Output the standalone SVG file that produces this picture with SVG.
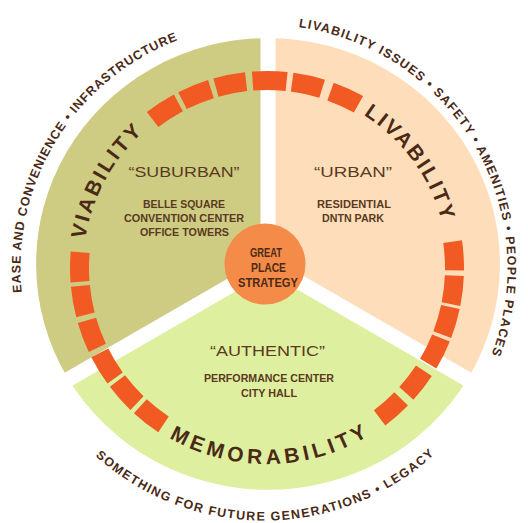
<svg xmlns="http://www.w3.org/2000/svg" xmlns:xlink="http://www.w3.org/1999/xlink" width="528" height="523" viewBox="0 0 528 523">
<defs>
<style>
text{font-family:"Liberation Sans",Arial,sans-serif;}
.ring{font-size:21px;font-weight:bold;fill:#4a2a16;}
.outer{font-size:12.5px;font-weight:bold;fill:#4a2a16;}
.quote{font-size:15px;fill:#5a3a20;}
.sub{font-size:11px;font-weight:bold;fill:#5a3a20;}
.core{font-size:12px;font-weight:bold;fill:#4a2a16;}
.blk{fill:none;stroke:#f15a22;stroke-width:19;stroke-linecap:butt;}
.band{stroke:#ffffff;stroke-width:15;}
</style>
<path id="pViab" d="M152.2,411.8 A184,184 0 0 1 325.7,93.6"/>
<path id="pLiv" d="M187.23,105.52 A181,181 0 0 1 397.57,393.34"/>
<path id="pMem" d="M74.67,305.73 A196,196 0 0 0 460.65,298.32"/>
<path id="pO1" d="M101.56,449.41 A243.5,243.5 0 0 1 354.63,41.98"/>
<path id="pO2" d="M179.12,39.77 A243.5,243.5 0 0 1 421.81,453.43"/>
<path id="pO3" d="M15.64,313.58 A252.5,252.5 0 0 0 512.97,310.12"/>
</defs>
<rect width="528" height="523" fill="#ffffff"/>

<g id="viability">
<path d="M268,264 L68.5,379.2 A232,226 0 0 1 268,38 Z" fill="#cecc83"/>
</g>
<g id="livability">
<path d="M268,264 L268,38 A232,226 0 0 1 467.5,379.2 Z" fill="#fedeba"/>
</g>
<g id="memorability">
<path d="M268,264 L467.5,379.2 A232,226 0 0 1 68.5,379.2 Z" fill="#dfefa0"/>
</g>

<g id="connectors">
<line class="band" x1="268" y1="264" x2="268" y2="28"/>
<line class="band" x1="268" y1="264" x2="60.2" y2="384"/>
<line class="band" x1="268" y1="264" x2="475.8" y2="384"/>
</g>

<g id="ring">
<path class="blk" d="M152.61,119.44 A187.5,187.5 0 0 1 178.39,102.76"/>
<path class="blk" d="M182.46,100.64 A187.5,187.5 0 0 1 210.94,89.09"/>
<path class="blk" d="M215.94,87.59 A187.5,187.5 0 0 1 246.09,81.66"/>
<path class="blk" d="M252.62,81.04 A187.5,187.5 0 0 1 286.59,81.53"/>
<path class="blk" d="M292.13,82.19 A187.5,187.5 0 0 1 322.13,88.79"/>
<path class="blk" d="M330.51,91.58 A187.5,187.5 0 0 1 358.48,104.33"/>
<path class="blk" d="M452.63,241.58 A187.5,187.5 0 0 1 454.49,270.29"/>
<path class="blk" d="M454.35,275.52 A187.5,187.5 0 0 1 450.99,304.09"/>
<path class="blk" d="M450.39,306.98 A187.5,187.5 0 0 1 442.28,334.58"/>
<path class="blk" d="M440.96,337.94 A187.5,187.5 0 0 1 428.23,363.72"/>
<path class="blk" d="M423.9,370.68 A187.5,187.5 0 0 1 406.33,393.46"/>
<path class="blk" d="M401.19,398.95 A187.5,187.5 0 0 1 379.58,417.94"/>
<path class="blk" d="M163.52,424.36 A187.5,187.5 0 0 1 140.32,406.24"/>
<path class="blk" d="M136.99,403.11 A187.5,187.5 0 0 1 117.45,381.1"/>
<path class="blk" d="M115.12,377.95 A187.5,187.5 0 0 1 99.79,352.83"/>
<path class="blk" d="M97.35,347.84 A187.5,187.5 0 0 1 86.94,320.31"/>
<path class="blk" d="M85.48,314.95 A187.5,187.5 0 0 1 80.36,285.96"/>
<path class="blk" d="M80.0,281.73 A187.5,187.5 0 0 1 80.16,252.31"/>
</g>

<g id="viability-labels">
<text class="ring" letter-spacing="2.7"><textPath xlink:href="#pViab" href="#pViab" startOffset="50%" text-anchor="middle">VIABILITY</textPath></text>
<text class="quote" x="128.5" y="177" textLength="111" lengthAdjust="spacingAndGlyphs">“SUBURBAN”</text>
<text class="sub" x="143" y="207.5" textLength="82" lengthAdjust="spacingAndGlyphs">BELLE SQUARE</text>
<text class="sub" x="124" y="222" textLength="120" lengthAdjust="spacingAndGlyphs">CONVENTION CENTER</text>
<text class="sub" x="140" y="236" textLength="89" lengthAdjust="spacingAndGlyphs">OFFICE TOWERS</text>
<text class="outer" letter-spacing="0.9"><textPath xlink:href="#pO1" href="#pO1" startOffset="50%" text-anchor="middle">EASE AND CONVENIENCE • INFRASTRUCTURE</textPath></text>
</g>

<g id="livability-labels">
<text class="ring" letter-spacing="2.4"><textPath xlink:href="#pLiv" href="#pLiv" startOffset="50%" text-anchor="middle">LIVABILITY</textPath></text>
<text class="quote" x="314" y="177" textLength="78" lengthAdjust="spacingAndGlyphs">“URBAN”</text>
<text class="sub" x="317" y="207.5" textLength="74" lengthAdjust="spacingAndGlyphs">RESIDENTIAL</text>
<text class="sub" x="322" y="221.5" textLength="62" lengthAdjust="spacingAndGlyphs">DNTN PARK</text>
<text class="outer" letter-spacing="1.2"><textPath xlink:href="#pO2" href="#pO2" startOffset="50%" text-anchor="middle">LIVABILITY ISSUES • SAFETY • AMENITIES • PEOPLE PLACES</textPath></text>
</g>

<g id="memorability-labels">
<text class="ring" letter-spacing="4.2"><textPath xlink:href="#pMem" href="#pMem" startOffset="50%" text-anchor="middle">MEMORABILITY</textPath></text>
<text class="quote" x="210" y="356" textLength="115" lengthAdjust="spacingAndGlyphs">“AUTHENTIC”</text>
<text class="sub" x="204" y="382" textLength="130" lengthAdjust="spacingAndGlyphs">PERFORMANCE CENTER</text>
<text class="sub" x="241" y="396.5" textLength="56" lengthAdjust="spacingAndGlyphs">CITY HALL</text>
<text class="outer" letter-spacing="1.34"><textPath xlink:href="#pO3" href="#pO3" startOffset="50%" text-anchor="middle">SOMETHING FOR FUTURE GENERATIONS • LEGACY</textPath></text>
</g>

<g id="great-place-strategy">
<circle cx="265" cy="264" r="40.5" fill="#f58b48"/>
<text class="core" x="250" y="257" textLength="32" lengthAdjust="spacingAndGlyphs">GREAT</text>
<text class="core" x="251" y="271.5" textLength="35" lengthAdjust="spacingAndGlyphs">PLACE</text>
<text class="core" x="238" y="287" textLength="60" lengthAdjust="spacingAndGlyphs">STRATEGY</text>
</g>
</svg>
